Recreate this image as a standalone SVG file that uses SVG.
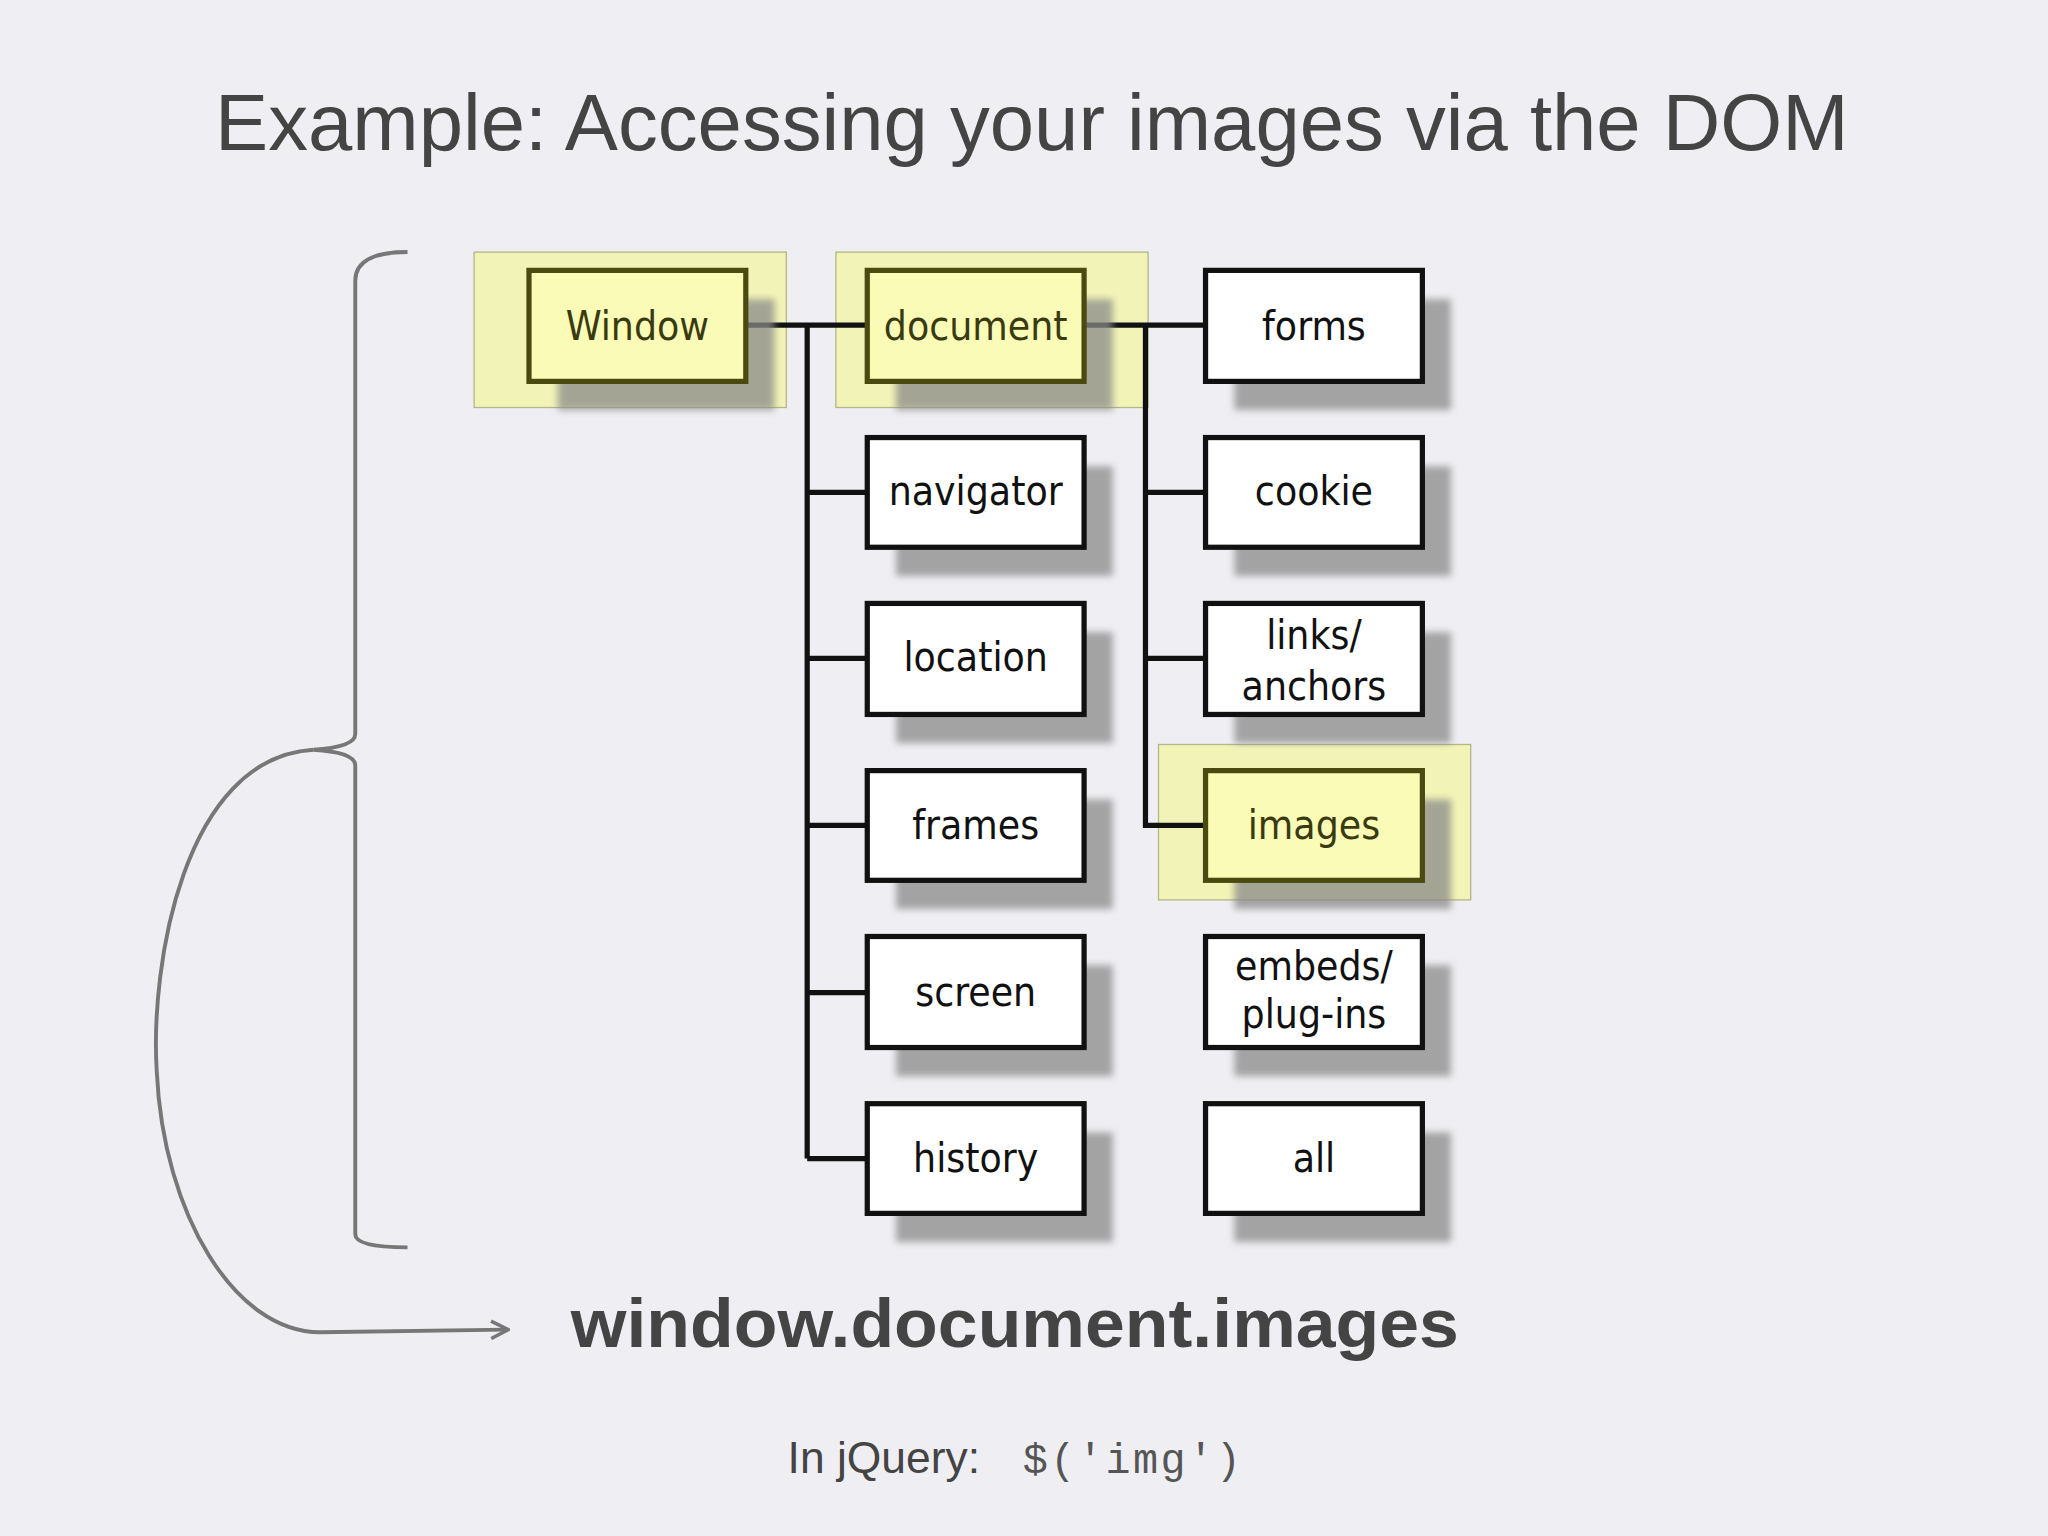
<svg xmlns="http://www.w3.org/2000/svg" width="2048" height="1536" viewBox="0 0 2048 1536">
<defs>
<style>
.box{fill:#fff;stroke:#111;stroke-width:4}
.hbox{fill:#fbfbb8;stroke:#4a4a10;stroke-width:4}
.hl{fill:#f2f5a8;fill-opacity:0.8;stroke:#b5b58a;stroke-width:1}
.sh{fill:#8a8a8a;opacity:0.75;filter:url(#blur)}
.lbl{font-family:"Liberation Sans Narrow","DejaVu Sans Condensed","Liberation Sans",sans-serif;font-stretch:condensed;font-size:31px;fill:#111;text-anchor:middle}
.hlbl{fill:#3a3a10}
.ln{stroke:#111;stroke-width:4;fill:none}
.gr{stroke:#777;stroke-width:3;fill:none}
</style>
<filter id="blur" x="-20%" y="-20%" width="140%" height="140%"><feGaussianBlur stdDeviation="3"/></filter>
<marker id="ar" viewBox="0 0 12 12" refX="10" refY="6" markerWidth="16" markerHeight="16" orient="auto" markerUnits="userSpaceOnUse"><path d="M1,1 L11,6 L1,11" fill="none" stroke="#777" stroke-width="2"/></marker>
</defs>
<rect width="2048" height="1536" fill="#efeff3"/>
<g transform="scale(1.30612)">
<text x="790" y="115" font-family="Liberation Sans,Arial,sans-serif" font-size="61" fill="#444" text-anchor="middle">Example: Accessing your images via the DOM</text>
<g id="highlights">
<rect class="hl" x="363" y="193" width="239" height="119"/>
<rect class="hl" x="640" y="193" width="239" height="119"/>
<rect class="hl" x="887" y="570" width="239" height="119"/>
</g>
<g id="connectors">
<path class="ln" d="M571,249 H664 M618,249 V887 M618,377 H664 M618,504 H664 M618,632 H664 M618,760 H664 M618,887 H664"/>
<path class="ln" d="M830,249 H923 M877,249 V632 H923 M877,377 H923 M877,504 H923"/>
<path class="gr" d="M312,193 Q272,193 272,215 V562 Q272,572 240,574 Q272,576 272,586 V945 Q272,955 312,955"/>
<path class="gr" marker-end="url(#ar)" d="M240,574 C140,580 115,740 120,820 C125,930 180,1020 245,1020 L388,1018"/>
</g>
<g id="n-window"><rect class="sh" x="427" y="229" width="166" height="85"/><rect class="hbox" x="405" y="207" width="166" height="85"/><text class="lbl hlbl" x="488" y="260">Window</text></g>
<g id="n-document"><rect class="sh" x="686" y="229" width="166" height="85"/><rect class="hbox" x="664" y="207" width="166" height="85"/><text class="lbl hlbl" x="747" y="260">document</text></g>
<g id="n-forms"><rect class="sh" x="945" y="229" width="166" height="85"/><rect class="box" x="923" y="207" width="166" height="85"/><text class="lbl" x="1006" y="260">forms</text></g>
<g id="n-navigator"><rect class="sh" x="686" y="357" width="166" height="84"/><rect class="box" x="664" y="335" width="166" height="84"/><text class="lbl" x="747" y="387">navigator</text></g>
<g id="n-cookie"><rect class="sh" x="945" y="357" width="166" height="84"/><rect class="box" x="923" y="335" width="166" height="84"/><text class="lbl" x="1006" y="387">cookie</text></g>
<g id="n-location"><rect class="sh" x="686" y="484" width="166" height="85"/><rect class="box" x="664" y="462" width="166" height="85"/><text class="lbl" x="747" y="514">location</text></g>
<g id="n-links"><rect class="sh" x="945" y="484" width="166" height="85"/><rect class="box" x="923" y="462" width="166" height="85"/><text class="lbl" x="1006" y="497">links/</text><text class="lbl" x="1006" y="536">anchors</text></g>
<g id="n-frames"><rect class="sh" x="686" y="612" width="166" height="84"/><rect class="box" x="664" y="590" width="166" height="84"/><text class="lbl" x="747" y="642">frames</text></g>
<g id="n-images"><rect class="sh" x="945" y="612" width="166" height="84"/><rect class="hbox" x="923" y="590" width="166" height="84"/><text class="lbl hlbl" x="1006" y="642">images</text></g>
<g id="n-screen"><rect class="sh" x="686" y="739" width="166" height="85"/><rect class="box" x="664" y="717" width="166" height="85"/><text class="lbl" x="747" y="770">screen</text></g>
<g id="n-embeds"><rect class="sh" x="945" y="739" width="166" height="85"/><rect class="box" x="923" y="717" width="166" height="85"/><text class="lbl" x="1006" y="750">embeds/</text><text class="lbl" x="1006" y="787">plug-ins</text></g>
<g id="n-history"><rect class="sh" x="686" y="867" width="166" height="84"/><rect class="box" x="664" y="845" width="166" height="84"/><text class="lbl" x="747" y="897">history</text></g>
<g id="n-all"><rect class="sh" x="945" y="867" width="166" height="84"/><rect class="box" x="923" y="845" width="166" height="84"/><text class="lbl" x="1006" y="897">all</text></g>
<text x="777" y="1031" font-family="Liberation Sans,Arial,sans-serif" font-weight="bold" font-size="52" fill="#444" text-anchor="middle" textLength="680" lengthAdjust="spacingAndGlyphs">window.document.images</text>
<text x="603" y="1128" font-family="Liberation Sans,Arial,sans-serif" font-size="34" fill="#444">In jQuery:</text>
<text x="783" y="1128" font-family="Liberation Mono,Courier New,monospace" font-size="32" fill="#555" textLength="167">$('img')</text>
</g>
</svg>
